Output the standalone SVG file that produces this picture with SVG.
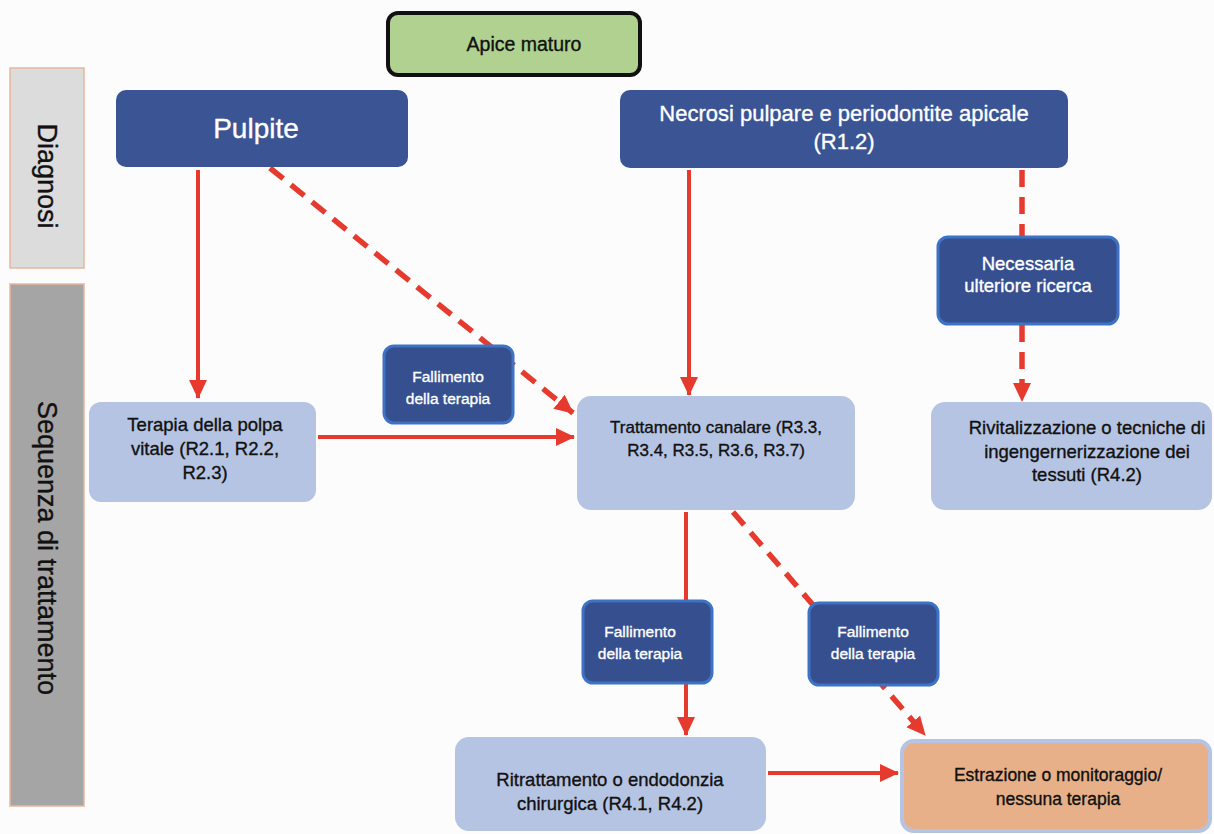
<svg xmlns="http://www.w3.org/2000/svg" width="1214" height="834" viewBox="0 0 1214 834">
<defs>
<marker id="ah" markerUnits="userSpaceOnUse" markerWidth="20" markerHeight="20" viewBox="0 0 20 20" refX="18" refY="10" orient="auto">
<path d="M0,1 L19,10 L0,19 Z" fill="#e63a2e"/>
</marker>
<style>
text{font-family:"Liberation Sans",Arial,sans-serif;text-anchor:middle}
.side{stroke:#e6b89c;stroke-width:1.5}
.dark{fill:#3a5494}
.lbl{fill:#36508f;stroke:#3d72c4;stroke-width:3}
.light{fill:#b5c4e3}
.wt{fill:#ffffff;stroke:#ffffff;stroke-width:0.35}
.bk{fill:#111111;stroke:#111111;stroke-width:0.35}
.c{stroke:#e63a2e;stroke-width:4;fill:none}
.d{stroke-dasharray:17 10;stroke-width:5.5}
.fl{font-size:15.5px}
</style>
</defs>
<rect width="1214" height="834" fill="#fcfcfc"/>

<g id="sidebar-diagnosi">
<rect class="side" x="10" y="68" width="74" height="200" fill="#dcdcdc"/>
<text class="bk" font-size="27" transform="translate(38,176) rotate(90)">Diagnosi</text>
</g>
<g id="sidebar-sequenza">
<rect class="side" x="10" y="284" width="74" height="522" fill="#a5a5a5"/>
<text class="bk" font-size="27" transform="translate(38,548) rotate(90)">Sequenza di trattamento</text>
</g>

<g id="connectors">
<line class="c" x1="198" y1="170" x2="198" y2="398" marker-end="url(#ah)"/>
<line class="c d" x1="270" y1="168" x2="573" y2="413" marker-end="url(#ah)"/>
<line class="c" x1="318" y1="437" x2="574" y2="437" marker-end="url(#ah)"/>
<line class="c" x1="689" y1="170" x2="689" y2="395" marker-end="url(#ah)"/>
<line class="c d" x1="1022" y1="170" x2="1022" y2="238"/>
<line class="c d" x1="1022" y1="325" x2="1022" y2="401" marker-end="url(#ah)"/>
<line class="c" x1="686" y1="512" x2="686" y2="602"/>
<line class="c" x1="686" y1="683" x2="686" y2="735" marker-end="url(#ah)"/>
<line class="c d" x1="733" y1="512" x2="925" y2="735" marker-end="url(#ah)"/>
<line class="c" x1="768" y1="773" x2="898" y2="773" marker-end="url(#ah)"/>
</g>

<g id="apice-maturo">
<rect x="388" y="13" width="252" height="62" rx="10" fill="#b0d18f" stroke="#111" stroke-width="4"/>
<text class="bk" x="524" y="51" font-size="19.5">Apice maturo</text>
</g>

<g id="pulpite">
<rect class="dark" x="116" y="90" width="292" height="77" rx="10"/>
<text class="wt" x="256" y="138" font-size="28">Pulpite</text>
</g>

<g id="necrosi">
<rect class="dark" x="620" y="90" width="448" height="78" rx="10"/>
<text class="wt" x="844" y="121" font-size="22">Necrosi pulpare e periodontite apicale</text>
<text class="wt" x="844" y="149" font-size="22">(R1.2)</text>
</g>

<g id="necessaria">
<rect class="lbl" x="938" y="237" width="180" height="87" rx="10"/>
<text class="wt" x="1028" y="270" font-size="18.5">Necessaria</text>
<text class="wt" x="1028" y="292" font-size="18.5">ulteriore ricerca</text>
</g>

<g id="fallimento-1">
<rect class="lbl" x="384" y="346" width="129" height="77" rx="10"/>
<text class="wt fl" x="448" y="382">Fallimento</text>
<text class="wt fl" x="448" y="404">della terapia</text>
</g>

<g id="terapia-polpa">
<rect class="light" x="89" y="402" width="227" height="100" rx="12"/>
<text class="bk" x="205" y="431" font-size="18.5">Terapia della polpa</text>
<text class="bk" x="205" y="455" font-size="18.5">vitale (R2.1, R2.2,</text>
<text class="bk" x="205" y="479" font-size="18.5">R2.3)</text>
</g>

<g id="trattamento-canalare">
<rect class="light" x="577" y="396" width="278" height="114" rx="14"/>
<text class="bk" x="716" y="433" font-size="17">Trattamento canalare (R3.3,</text>
<text class="bk" x="716" y="456" font-size="17">R3.4, R3.5, R3.6, R3.7)</text>
</g>

<g id="rivitalizzazione">
<rect class="light" x="931" y="402" width="281" height="108" rx="14"/>
<text class="bk" x="1087" y="434" font-size="18.5">Rivitalizzazione o tecniche di</text>
<text class="bk" x="1087" y="458" font-size="18.5">ingengernerizzazione dei</text>
<text class="bk" x="1087" y="481" font-size="18.5">tessuti (R4.2)</text>
</g>

<g id="fallimento-2">
<rect class="lbl" x="583" y="601" width="129" height="82" rx="10"/>
<text class="wt fl" x="640" y="637">Fallimento</text>
<text class="wt fl" x="640" y="659">della terapia</text>
</g>

<g id="fallimento-3">
<rect class="lbl" x="809" y="603" width="129" height="82" rx="10"/>
<text class="wt fl" x="873" y="637">Fallimento</text>
<text class="wt fl" x="873" y="659">della terapia</text>
</g>

<g id="ritrattamento">
<rect class="light" x="455" y="737" width="311" height="94" rx="14"/>
<text class="bk" x="610" y="786" font-size="18.5">Ritrattamento o endodonzia</text>
<text class="bk" x="610" y="810" font-size="18.5">chirurgica (R4.1, R4.2)</text>
</g>

<g id="estrazione">
<rect x="902" y="741" width="308" height="90" rx="12" fill="#e8b088" stroke="#b5c4e3" stroke-width="4"/>
<text class="bk" x="1058" y="781" font-size="17.5">Estrazione o monitoraggio/</text>
<text class="bk" x="1058" y="805" font-size="17.5">nessuna terapia</text>
</g>
</svg>
